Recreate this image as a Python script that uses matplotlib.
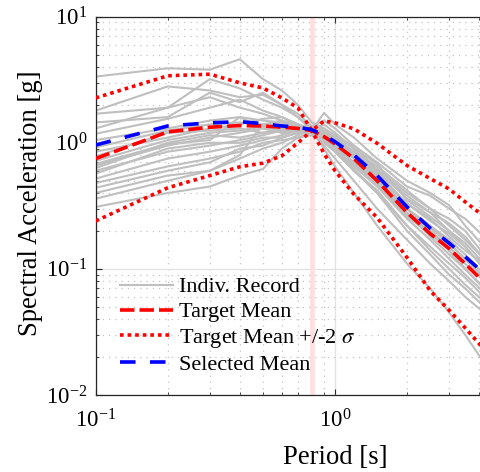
import numpy as np
import matplotlib
matplotlib.use("Agg")
import matplotlib.pyplot as plt

# ---------------- data ----------------
periods = [0.1, 0.2, 0.3, 0.4, 0.5, 0.6, 0.7, 0.8, 0.9, 1.0, 1.2, 1.5, 2.0, 2.5, 3.0, 3.5, 4.2]

target_mean = [0.75, 1.22, 1.33, 1.37, 1.36, 1.33, 1.30, 1.25, 1.12, 0.98, 0.75, 0.50, 0.28, 0.19, 0.145, 0.11, 0.078]
target_upper = [2.27, 3.40, 3.50, 2.99, 2.72, 2.27, 1.89, 1.25, 1.49, 1.44, 1.29, 0.99, 0.66, 0.52, 0.43, 0.34, 0.26]
target_lower = [0.24, 0.44, 0.55, 0.645, 0.69, 0.79, 1.00, 1.25, 0.82, 0.60, 0.39, 0.255, 0.123, 0.067, 0.047, 0.034, 0.023]
selected_mean = [0.96, 1.36, 1.44, 1.47, 1.42, 1.36, 1.33, 1.27, 1.15, 1.02, 0.80, 0.55, 0.31, 0.21, 0.16, 0.125, 0.092]

rec01 = [3.35, 3.90, 3.80, 4.60, 3.20, 2.60, 2.00, 1.45, 1.30, 1.05, 0.80, 0.55, 0.30, 0.20, 0.14, 0.10, 0.07]
rec02 = [1.80, 2.80, 2.60, 2.30, 2.40, 2.00, 1.70, 1.35, 1.50, 1.30, 0.95, 0.60, 0.38, 0.28, 0.20, 0.15, 0.10]
rec03 = [1.70, 1.90, 3.20, 2.70, 2.20, 1.90, 1.60, 1.30, 1.20, 1.05, 0.85, 0.65, 0.42, 0.30, 0.22, 0.17, 0.12]
rec04 = [1.45, 1.60, 2.50, 2.10, 2.50, 2.00, 1.60, 1.25, 1.40, 1.20, 0.90, 0.55, 0.33, 0.25, 0.18, 0.14, 0.11]
rec05 = [1.30, 1.90, 2.30, 1.90, 1.70, 1.50, 1.40, 1.30, 1.10, 0.90, 0.70, 0.50, 0.30, 0.22, 0.16, 0.12, 0.085]
rec06 = [1.18, 1.55, 1.90, 2.20, 1.80, 1.60, 1.40, 1.25, 1.73, 1.40, 1.10, 0.75, 0.50, 0.40, 0.32, 0.22, 0.15]
rec07 = [1.05, 1.30, 1.50, 1.60, 1.50, 1.45, 1.35, 1.30, 1.25, 1.10, 0.95, 0.70, 0.45, 0.38, 0.30, 0.25, 0.18]
rec08 = [0.92, 1.25, 1.40, 1.45, 1.40, 1.50, 1.30, 1.20, 1.10, 0.95, 0.75, 0.50, 0.28, 0.18, 0.13, 0.10, 0.07]
rec09 = [0.85, 1.10, 1.30, 1.40, 1.55, 1.60, 1.40, 1.25, 1.05, 0.85, 0.60, 0.40, 0.22, 0.14, 0.10, 0.075, 0.055]
rec10 = [0.78, 1.20, 1.25, 1.30, 1.20, 1.25, 1.35, 1.30, 1.20, 1.10, 0.85, 0.62, 0.40, 0.30, 0.25, 0.20, 0.13]
rec11 = [0.72, 1.05, 1.20, 1.25, 1.35, 1.40, 1.30, 1.25, 1.15, 1.00, 0.78, 0.52, 0.30, 0.22, 0.17, 0.13, 0.09]
rec12 = [0.66, 0.95, 1.10, 1.20, 1.30, 1.20, 1.25, 1.20, 1.05, 0.90, 0.65, 0.45, 0.25, 0.17, 0.12, 0.09, 0.065]
rec13 = [0.63, 1.00, 1.15, 1.10, 1.20, 1.30, 1.35, 1.25, 1.30, 1.15, 0.90, 0.68, 0.35, 0.26, 0.20, 0.16, 0.11]
rec14 = [0.60, 0.85, 0.95, 1.05, 1.15, 1.25, 1.20, 1.25, 1.10, 0.95, 0.70, 0.48, 0.27, 0.20, 0.15, 0.11, 0.08]
rec15 = [0.57, 0.90, 1.00, 1.00, 1.10, 1.10, 1.20, 1.30, 1.15, 1.05, 0.80, 0.58, 0.33, 0.24, 0.19, 0.15, 0.10]
rec16 = [0.52, 0.75, 0.85, 0.95, 1.05, 1.15, 1.25, 1.20, 0.95, 0.75, 0.50, 0.30, 0.17, 0.11, 0.08, 0.06, 0.045]
rec17 = [0.48, 0.65, 0.75, 0.85, 1.00, 1.05, 1.10, 1.15, 1.00, 0.85, 0.60, 0.42, 0.22, 0.15, 0.11, 0.085, 0.06]
rec18 = [0.44, 0.60, 0.70, 0.90, 0.95, 1.10, 1.20, 1.30, 1.20, 1.05, 0.80, 0.55, 0.30, 0.21, 0.16, 0.12, 0.085]
rec19 = [0.40, 0.55, 0.60, 0.75, 0.90, 1.00, 1.15, 1.25, 0.90, 0.65, 0.40, 0.22, 0.11, 0.07, 0.045, 0.03, 0.018]
rec20 = [0.36, 0.50, 0.60, 0.80, 1.40, 1.20, 1.30, 1.25, 1.10, 0.92, 0.68, 0.47, 0.26, 0.19, 0.14, 0.10, 0.07]
rec21 = [0.31, 0.40, 0.45, 0.55, 0.62, 0.90, 1.10, 1.20, 1.05, 0.88, 0.62, 0.40, 0.20, 0.13, 0.09, 0.07, 0.05]
rec22 = [0.68, 0.98, 1.05, 1.60, 1.30, 1.35, 1.30, 1.25, 1.15, 1.05, 0.85, 0.60, 0.36, 0.28, 0.23, 0.18, 0.12]
records = [rec01, rec02, rec03, rec04, rec05, rec06, rec07, rec08, rec09, rec10, rec11,
           rec12, rec13, rec14, rec15, rec16, rec17, rec18, rec19, rec20, rec21, rec22]

conditioning_period = 0.8
x_ticks = [0.1, 1.0]
y_ticks = [0.01, 0.1, 1.0, 10.0]

# ---------------- style ----------------
plt.rcParams['font.family'] = ['Liberation Serif', 'DejaVu Serif']
plt.rcParams['mathtext.fontset'] = 'stix'

W, H = 481, 472
fig = plt.figure(figsize=(W / 100, H / 100), dpi=100)
left_px, right_px_full, top_px, bottom_px = 95.7, 95.7 + 239.3 * np.log10(5 / 0.1), 16.7, 395.0
ax_w_px = right_px_full - left_px
ax_h_px = bottom_px - top_px
ax = fig.add_axes([left_px / W, 1 - bottom_px / H, ax_w_px / W, ax_h_px / H])
ax.set_xscale('log')
ax.set_yscale('log')
ax.set_xlim(0.1, 5)
ax.set_ylim(0.01, 10)

# grid
ax.grid(True, which='major', color='#e3e3e3', linewidth=1.0, linestyle='-', zorder=0)
ax.grid(True, which='minor', color='#c4c4c4', linewidth=0.9, linestyle=(0, (1, 4)), zorder=0)
ax.set_axisbelow(True)

# conditioning period band
ax.axvline(conditioning_period, color=(1.0, 0.88, 0.88), linewidth=3.5, zorder=1)

for i, r in enumerate(records):
    ax.plot(periods, r, color=(0.75, 0.75, 0.75), linewidth=1.5, zorder=2,
            label='Indiv. Record' if i == 0 else None)

ax.plot(periods, target_mean, color='red', linewidth=2.6, dashes=(4, 1.4), zorder=3,
        label='Target Mean')
ax.plot(periods, target_upper, color='red', linewidth=2.6, dashes=(1, 1.1), zorder=3,
        label='Target Mean +/-2 $\\sigma$')
ax.plot(periods, target_lower, color='red', linewidth=2.6, dashes=(1, 1.1), zorder=3)
ax.plot(periods, selected_mean, color='blue', linewidth=2.6, dashes=(4.3, 4.0), zorder=4,
        label='Selected Mean')

ax.set_xticks(x_ticks)
ax.set_yticks(y_ticks)
ax.tick_params(which='both', direction='in', top=True, right=True, colors='#262626',
               labelcolor='black', labelsize=16.5)
ax.tick_params(which='major', length=4, width=0.8)
ax.tick_params(axis='x', which='major', pad=10.5)
ax.tick_params(axis='y', which='major', pad=6)
ax.tick_params(which='minor', length=2.5, width=0.6)
for s in ax.spines.values():
    s.set_color('#262626')
    s.set_linewidth(0.9)

# axis labels placed at the reference's pixel positions
fig.text(335 / W, 1 - 458 / H, 'Period [s]', fontsize=19.2, ha='center', va='center')
fig.text(31 / W, 1 - 203 / H, 'Spectral Acceleration [g]', fontsize=19.2,
         rotation=90, rotation_mode='default', ha='center', va='center')

leg = ax.legend(loc='lower left', bbox_to_anchor=((120 - 8.6 - left_px) / ax_w_px, 0.030),
                frameon=False, fontsize=16, handlelength=2.35, handletextpad=0.28,
                labelspacing=0.2, borderaxespad=0)

fig.savefig('out.png', dpi=100)
